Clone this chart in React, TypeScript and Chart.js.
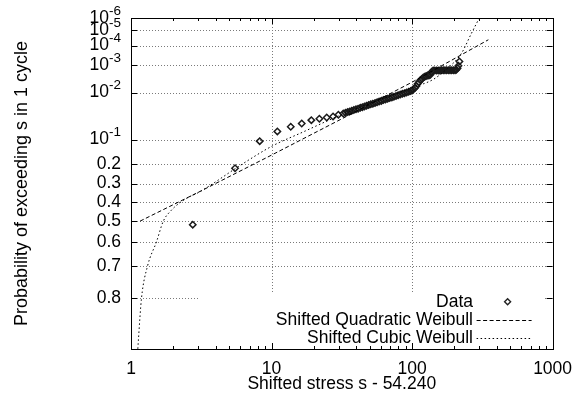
import React, { useEffect, useRef } from 'react';
import { Chart, registerables } from 'chart.js';

Chart.register(...registerables);

const FONT = '"Liberation Sans", Arial, Helvetica, sans-serif';
const FS = 17.5;

// Axis ticks
const xTickValues = [1, 10, 100, 1000];
const xTickLabels = ['1', '10', '100', '1000'];
const yTickProbs = [1e-6, 1e-5, 1e-4, 1e-3, 1e-2, 1e-1, 0.2, 0.3, 0.4, 0.5, 0.6, 0.7, 0.8];
const yTickBase = ['10', '10', '10', '10', '10', '10', '0.2', '0.3', '0.4', '0.5', '0.6', '0.7', '0.8'];
const yTickExp = ['-6', '-5', '-4', '-3', '-2', '-1', '', '', '', '', '', '', ''];
const yRangeProb = [0.9, 1e-6];

const xTitle = 'Shifted stress s - 54.240';
const yTitle = 'Probability of exceeding s in 1 cycle';
const legendLabels = ['Data', 'Shifted Quadratic Weibull', 'Shifted Cubic Weibull'];

// Data (shifted stress, exceedance probability)
const dataStress = [
  2.75, 5.5, 8.24, 11.0, 13.7, 16.4, 19.2, 21.9, 24.7, 27.4, 29.9,
  32.4, 33.6, 34.8, 36.0, 37.2, 38.5, 39.9, 41.3, 42.8, 44.3, 45.8, 47.4, 49.1, 50.8, 52.6, 54.5,
  56.4, 58.3, 60.4, 62.5, 64.7, 67.0, 69.3, 71.8, 74.3, 76.9, 79.6, 82.4, 85.3, 88.3, 91.4, 94.6,
  97.7, 100, 102.3, 104.7, 107.2, 109.6, 112.2, 114.8, 117.5, 120.2, 123.0, 125.9, 128.8, 131.8, 134.9, 138.0,
  141.3, 145.2, 149.3, 153.5, 157.8, 162.2, 166.7, 171.4, 176.2, 181.1, 186.2, 191.4, 196.8, 202.3,
  206.5, 210.8, 213.8, 217.3,
];
const dataProb = [
  0.518, 0.221, 0.1052, 0.0744, 0.0618, 0.0539, 0.0465, 0.0437, 0.0412, 0.0392, 0.0361,
  0.0339, 0.0328, 0.0316, 0.0305, 0.0295, 0.0283, 0.0273, 0.0264, 0.0253, 0.0244, 0.0235, 0.0225, 0.0217, 0.0208, 0.02, 0.0192,
  0.0184, 0.0177, 0.017, 0.0162, 0.0156, 0.0149, 0.0143, 0.0137, 0.0131, 0.0125, 0.0119, 0.0114, 0.0109, 0.0104, 0.0099, 0.0094,
  0.009, 0.0086, 0.008, 0.0073, 0.0064, 0.0053, 0.0046, 0.0039, 0.0036, 0.0032, 0.003, 0.0028, 0.0027, 0.0027, 0.0025, 0.0019,
  0.00171, 0.0017, 0.0017, 0.00169, 0.00169, 0.00168, 0.00168, 0.00168, 0.00167, 0.00167, 0.00167, 0.00166, 0.00166, 0.00165,
  0.0016, 0.00136, 0.00107, 0.000685,
];

// Fitted curves
const quadStress = [1.16, 3.162, 10, 31.62, 100, 349];
const quadProb = [0.5, 0.3385, 0.1599, 0.0438, 0.00467, 4.43e-5];

const cubicStress = [1.1, 1.131, 1.188, 1.31, 1.518, 1.698, 1.926, 2.233, 2.587, 3.0, 3.77, 5.78, 10.1, 16.5, 31.7, 100, 141.3, 177.8, 223.9, 263, 300, 359];
const cubicProb = [0.92, 0.884, 0.8, 0.7, 0.6, 0.5, 0.4453, 0.4025, 0.372, 0.3488, 0.303, 0.2137, 0.1232, 0.0773, 0.0356, 0.00706, 0.00375, 0.00142, 2.84e-4, 1.83e-5, 1.04e-6, 3.8e-9];

// Weibull probability paper transform
const weib = (p: number) => Math.log(-Math.log(p));
const pts = (xs: number[], ps: number[]) => xs.map((x, i) => ({ x, y: weib(ps[i]) }));

const paperPlugin = {
  id: 'paper',
  beforeDatasetsDraw(chart: any) {
    const { ctx, chartArea: a, scales } = chart;
    const x = scales.x;
    const y = scales.y;
    ctx.save();
    // dotted grid
    ctx.strokeStyle = '#7a7a7a';
    ctx.lineWidth = 1;
    ctx.setLineDash([1, 2]);
    yTickProbs.forEach((p) => {
      const py = Math.round(y.getPixelForValue(weib(p))) + 0.5;
      ctx.beginPath();
      ctx.moveTo(a.left, py);
      ctx.lineTo(a.right, py);
      ctx.stroke();
    });
    xTickValues.slice(1, -1).forEach((v) => {
      const px = Math.round(x.getPixelForValue(v)) + 0.5;
      ctx.beginPath();
      ctx.moveTo(px, a.top);
      ctx.lineTo(px, a.bottom);
      ctx.stroke();
    });
    ctx.setLineDash([]);
    // opaque key box
    ctx.fillStyle = '#fff';
    ctx.fillRect(a.left + 69, a.bottom - 56, a.right - a.left - 78.6, 56);
    // border
    ctx.strokeStyle = '#000';
    ctx.lineWidth = 1;
    ctx.strokeRect(Math.round(a.left) + 0.5, Math.round(a.top) + 0.5, Math.round(a.right - a.left), Math.round(a.bottom - a.top));
    // ticks
    ctx.beginPath();
    yTickProbs.forEach((p) => {
      const py = Math.round(y.getPixelForValue(weib(p))) + 0.5;
      ctx.moveTo(a.left, py);
      ctx.lineTo(a.left + 6, py);
      ctx.moveTo(a.right, py);
      ctx.lineTo(a.right - 6, py);
    });
    [1, 10, 100].forEach((dec) => {
      for (let m = 1; m <= 9; m++) {
        const v = dec * m;
        if (v === 1) continue;
        const len = m === 1 ? 6 : 3;
        const px = Math.round(x.getPixelForValue(v)) + 0.5;
        ctx.moveTo(px, a.bottom);
        ctx.lineTo(px, a.bottom - len);
        ctx.moveTo(px, a.top);
        ctx.lineTo(px, a.top + len);
      }
    });
    ctx.stroke();
    ctx.restore();
  },
  afterDraw(chart: any) {
    const { ctx, chartArea: a, scales } = chart;
    const x = scales.x;
    const y = scales.y;
    ctx.save();
    ctx.fillStyle = '#000';
    ctx.textBaseline = 'middle';
    // y tick labels
    yTickProbs.forEach((p, i) => {
      const py = y.getPixelForValue(weib(p));
      let right = a.left - 10;
      if (yTickExp[i]) {
        ctx.font = `13.5px ${FONT}`;
        const ew = ctx.measureText(yTickExp[i]).width;
        ctx.textAlign = 'left';
        ctx.fillText(yTickExp[i], right - ew, py - 7);
        right -= ew;
      }
      ctx.font = `${FS}px ${FONT}`;
      ctx.textAlign = 'right';
      ctx.fillText(yTickBase[i], right, py);
    });
    // x tick labels
    ctx.font = `${FS}px ${FONT}`;
    ctx.textAlign = 'center';
    xTickValues.forEach((v, i) => {
      ctx.fillText(xTickLabels[i], x.getPixelForValue(v), a.bottom + 20);
    });
    // titles
    ctx.fillText(xTitle, (a.left + a.right) / 2, a.bottom + 35);
    ctx.save();
    ctx.translate(22, (a.top + a.bottom) / 2);
    ctx.rotate(-Math.PI / 2);
    ctx.font = `18px ${FONT}`;
    ctx.fillText(yTitle, 0, 0);
    ctx.restore();
    // key
    ctx.font = `${FS}px ${FONT}`;
    const rows = [a.bottom - 47.3, a.bottom - 29, a.bottom - 10.7];
    ctx.textAlign = 'right';
    legendLabels.forEach((t, i) => ctx.fillText(t, a.right - 79.6, rows[i]));
    const sx0 = a.right - 76;
    const sx1 = a.right - 21;
    ctx.strokeStyle = '#222';
    ctx.lineWidth = 1.4;
    const cx = a.right - 45;
    ctx.beginPath();
    ctx.moveTo(cx - 3, rows[0]);
    ctx.lineTo(cx, rows[0] - 3);
    ctx.lineTo(cx + 3, rows[0]);
    ctx.lineTo(cx, rows[0] + 3);
    ctx.closePath();
    ctx.stroke();
    ctx.lineWidth = 1;
    ctx.strokeStyle = '#000';
    ctx.setLineDash([4, 2.5]);
    ctx.beginPath();
    ctx.moveTo(sx0, Math.round(rows[1]) + 0.5);
    ctx.lineTo(sx1, Math.round(rows[1]) + 0.5);
    ctx.stroke();
    ctx.setLineDash([1.5, 2.5]);
    ctx.beginPath();
    ctx.moveTo(sx0, Math.round(rows[2]) + 0.5);
    ctx.lineTo(sx1, Math.round(rows[2]) + 0.5);
    ctx.stroke();
    ctx.restore();
  },
};

export default function App() {
  const ref = useRef<HTMLCanvasElement>(null);
  useEffect(() => {
    if (!ref.current) return;
    const chart = new Chart(ref.current, {
      type: 'scatter',
      data: {
        datasets: [
          {
            label: legendLabels[1],
            data: pts(quadStress, quadProb),
            showLine: true,
            borderColor: '#000',
            borderWidth: 1,
            borderDash: [4, 2.5],
            pointRadius: 0,
          },
          {
            label: legendLabels[2],
            data: pts(cubicStress, cubicProb),
            showLine: true,
            borderColor: '#000',
            borderWidth: 1,
            borderDash: [1.5, 2.5],
            pointRadius: 0,
            cubicInterpolationMode: 'monotone',
          },
          {
            label: legendLabels[0],
            data: pts(dataStress, dataProb),
            showLine: false,
            pointStyle: 'rectRot',
            pointRadius: 3.2,
            borderColor: '#1a1a1a',
            borderWidth: 1.5,
            backgroundColor: 'rgba(0,0,0,0)',
          },
        ],
      } as any,
      options: {
        responsive: false,
        animation: false,
        devicePixelRatio: 1,
        layout: { padding: { left: 0, right: 30.4, top: 18, bottom: 0 } },
        plugins: { legend: { display: false }, tooltip: { enabled: false } },
        scales: {
          x: {
            type: 'logarithmic',
            min: xTickValues[0],
            max: xTickValues[xTickValues.length - 1],
            ticks: { display: false },
            grid: { display: false },
            border: { display: false },
            afterFit: (s: any) => {
              s.height = 49;
            },
          },
          y: {
            type: 'linear',
            min: weib(yRangeProb[0]),
            max: weib(yRangeProb[1]),
            ticks: { display: false },
            grid: { display: false },
            border: { display: false },
            afterFit: (s: any) => {
              s.width = 131;
            },
          },
        },
      } as any,
      plugins: [paperPlugin],
    });
    return () => chart.destroy();
  }, []);
  return (
    <div style={{ position: 'fixed', left: 0, top: 0, width: 583, height: 398, background: '#fff' }}>
      <canvas ref={ref} width={583} height={398} style={{ display: 'block', width: 583, height: 398 }} />
    </div>
  );
}
